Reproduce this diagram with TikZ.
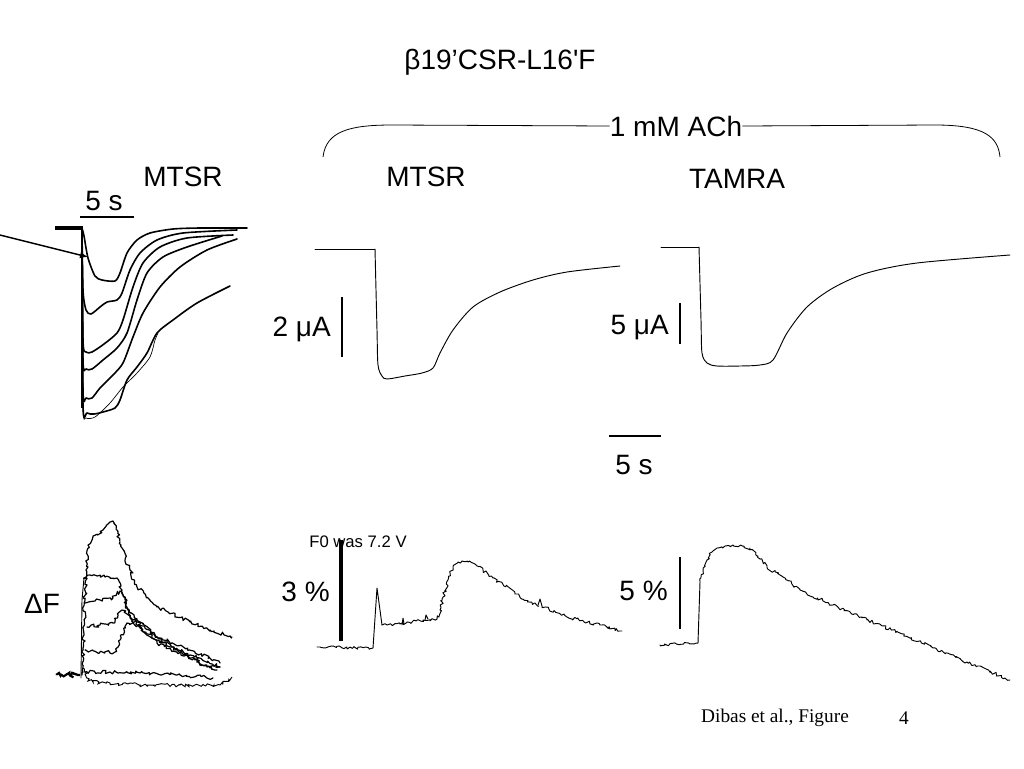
\documentclass[tikz,border=0pt]{standalone}
\usepackage{fontspec}
\setmainfont{Liberation Sans}
\newfontfamily\rawsans[Ligatures=ResetAll]{Liberation Sans}
\newfontfamily\timesfont{Liberation Serif}
\usetikzlibrary{decorations.pathmorphing,arrows.meta}
\begin{document}
\begin{tikzpicture}[x=0.75pt,y=-0.75pt,
  lbl/.style={font=\fontsize{21}{24}\selectfont, inner sep=0pt},
  smalllbl/.style={font=\fontsize{12.5}{14}\selectfont, inner sep=0pt},
  timeslbl/.style={font=\timesfont\fontsize{14.5}{17}\selectfont, inner sep=0pt},
  trace/.style={line width=0.7pt, line join=round, line cap=round},
  ltrace/.style={line width=1.2pt, line join=round, line cap=round},
  ftrace/.style={line width=0.9pt, line join=round, line cap=round},
  bar/.style={line width=2.2pt},
  noisy/.style={decorate, decoration={random steps, segment length=1.5pt, amplitude=1.25pt}},
  fnoisy/.style={decorate, decoration={random steps, segment length=1.5pt, amplitude=1.4pt}},
  bignoise/.style={decorate, decoration={random steps, segment length=1.2pt, amplitude=2pt}}]
\pgfmathsetseed{11}
\useasboundingbox[fill=white] (0,0) rectangle (1024,768);

% ---------- texts ----------
\node[lbl] (title) at (500,62) {β19’CSR-L16{\rawsans '}F};
\node[lbl] (ach) at (676,126) {1 mM ACh};
\node[lbl] (mtsrL) at (183,177) {MTSR};
\node[lbl] (fiveL) at (104,201) {5 s};
\node[lbl] (mtsrM) at (426,177) {MTSR};
\node[lbl] (tamra) at (737,179) {TAMRA};
\node[lbl, anchor=east] (twoua) at (331,329) {2 μA};
\node[lbl, anchor=east] (fiveua) at (669,328) {5 μA};
\node[lbl] (fives) at (634,465) {5 s};
\node[smalllbl] (f0) at (358,542) {F0 was 7.2 V};
\node[lbl, anchor=east] (three) at (330,592) {3 \%};
\node[lbl, anchor=east] (fivep) at (668,591) {5 \%};
\node[lbl] (df) at (42,604) {ΔF};
\node[timeslbl] (dibas) at (775,718) {Dibas et al., Figure};
\node[timeslbl] (four) at (904,718) {4};

% ---------- brace ----------
\draw[line width=0.6pt] (323,157) .. controls (326,131) and (350,125) .. (392,125) -- (ach.west);
\draw[line width=0.6pt] (ach.east) -- (935,125) .. controls (985,125) and (998,137) .. (1000,157);

% ---------- scale bars ----------
\draw[line width=1.1pt] (80,217) -- (134,217);
\draw[bar] (342,297) -- (342,357);
\draw[bar] (680,303) -- (680,344);
\draw[bar] (609,436) -- (661,436);
\draw[line width=2.8pt] (341,540) -- (341,641);
\draw[bar] (680,557) -- (680,629);

% ---------- left current traces ----------
\draw[line width=2.4pt] (55,228) -- (83,228);
\draw[line width=2.2pt] (82,228) -- (82,408);
\draw[line width=1.1pt, -{Latex[length=6pt,width=5pt]}] (0,235) -- (88,257);
\draw[ltrace] plot[smooth, tension=0.45] coordinates {(82,228) (84,236) (88,258) (95,276) (102,280) (115,281) (120,273) (127,253) (137,240) (150,233) (173,229) (200,228) (247,228)};
\draw[ltrace] plot[smooth, tension=0.45] coordinates {(82,228) (83,290) (86,310) (91,314) (100,307) (107,302) (117,300) (122,293) (130,270) (140,253) (157,240) (183,233) (237,230)};
\draw[ltrace] plot[smooth, tension=0.45] coordinates {(82,228) (83,340) (86,352) (92,352) (104,344) (117,333) (123,320) (133,287) (143,263) (160,247) (187,238) (233,235)};
\draw[ltrace] plot[smooth, tension=0.45] coordinates {(82,228) (83,360) (86,369) (92,369) (103,360) (117,348) (127,333) (137,300) (147,273) (163,257) (187,247) (222,236)};
\draw[ltrace] plot[smooth, tension=0.45] coordinates {(82,228) (83,390) (86,398) (92,398) (100,388) (113,375) (123,363) (133,337) (143,313) (160,287) (180,267) (207,250) (237,239)};
\draw[ltrace] plot[smooth, tension=0.45] coordinates {(82,228) (83,405) (87,413) (94,414) (103,412) (115,408) (120,400) (127,380) (137,367) (147,353) (157,333) (173,320) (197,303) (230,286)};
\draw[line width=0.5pt] plot[smooth, tension=0.45] coordinates {(82,300) (83,410) (86,418) (95,417) (110,403) (123,387) (137,373) (150,357) (155,340) (158,333)};

% ---------- middle current trace ----------
\draw[trace] (315,249) -- (375,249);
\draw[trace] plot[smooth, tension=0.5] coordinates {(375,249) (377,330) (378,365) (382,376) (387,379) (405,376) (422,373) (433,368) (440,353) (453,330) (473,307) (500,292) (533,280) (567,272) (620,266)};

% ---------- right current trace ----------
\draw[trace] (661,247) -- (699,247);
\draw[trace] plot[smooth, tension=0.5] coordinates {(699,247) (701,320) (702,353) (707,363) (717,366) (740,366) (760,365) (773,360) (787,333) (807,307) (833,288) (867,273) (917,263) (1010,255)};

% ---------- middle fluorescence ----------
\draw[trace, noisy] (317,647) -- (373,648);
\draw[trace] (373,648) -- (377,588) -- (382,625);
\draw[trace, noisy] (382,625) -- (400,624) -- (423,620) -- (437,619);
\draw[trace] (402,625) -- (403,618) -- (404,624);
\draw[trace] (425,620) -- (426,615) -- (428,619);
\draw[trace, noisy] (437,619) -- (440,610) -- (443,597) -- (448,580) -- (453,567) -- (458,562) -- (462,561) -- (468,562) -- (473,563) -- (483,570) -- (493,578) -- (515,593) -- (533,604) -- (539,606);
\draw[trace] (538,605) -- (540,599) -- (542,606);
\draw[trace, noisy] (542,606) -- (567,617) -- (600,625) -- (622,631);

% ---------- right fluorescence ----------
\draw[trace, noisy] (660,645) -- (698,643);
\draw[trace] (698,643) -- (700,582);
\draw[trace, noisy] (700,582) -- (703,570) -- (707,560) -- (712,552) -- (717,548) -- (725,546) -- (733,545) -- (750,548) -- (758,556) -- (767,567) -- (783,577) -- (800,590) -- (833,605) -- (867,620) -- (900,633) -- (933,648) -- (967,662) -- (1010,680);

% ---------- left fluorescence ----------
\draw[line width=1.6pt, bignoise] (57,675) -- (80,675);
\draw[trace] (81,678) -- (82,600) -- (84,578);
\draw[ftrace, fnoisy] (82,675) -- (84,620) -- (86,570) -- (88,545) -- (93,537) -- (103,530) -- (113,521) -- (117,530) -- (121,545) -- (130,570) -- (137,587) -- (150,600) -- (157,607) -- (175,615) -- (190,622) -- (210,630) -- (232,637);
\draw[ftrace, fnoisy] (84,578) -- (90,575) -- (105,577) -- (117,578) -- (122,590) -- (127,607) -- (140,622) -- (157,637) -- (190,650) -- (220,663);
\draw[ftrace, fnoisy] (85,603) -- (95,601) -- (113,598) -- (120,591) -- (125,600) -- (130,617) -- (140,628) -- (157,640) -- (190,655) -- (220,667);
\draw[ftrace, fnoisy] (87,627) -- (100,625) -- (113,623) -- (118,615) -- (122,610) -- (127,614) -- (133,620) -- (145,632) -- (157,643) -- (190,658) -- (217,670);
\draw[ftrace, fnoisy] (85,650) -- (100,652) -- (115,652) -- (120,640) -- (127,623) -- (137,622) -- (145,628) -- (157,637) -- (180,652) -- (207,667) -- (220,667);
\draw[ftrace, fnoisy] (85,672) -- (110,672) -- (140,673) -- (180,675) -- (213,678);
\draw[line width=0.7pt, fnoisy] (83,668) -- (88,681) -- (110,683) -- (140,685) -- (180,685) -- (220,685) -- (232,677);
\end{tikzpicture}
\end{document}
